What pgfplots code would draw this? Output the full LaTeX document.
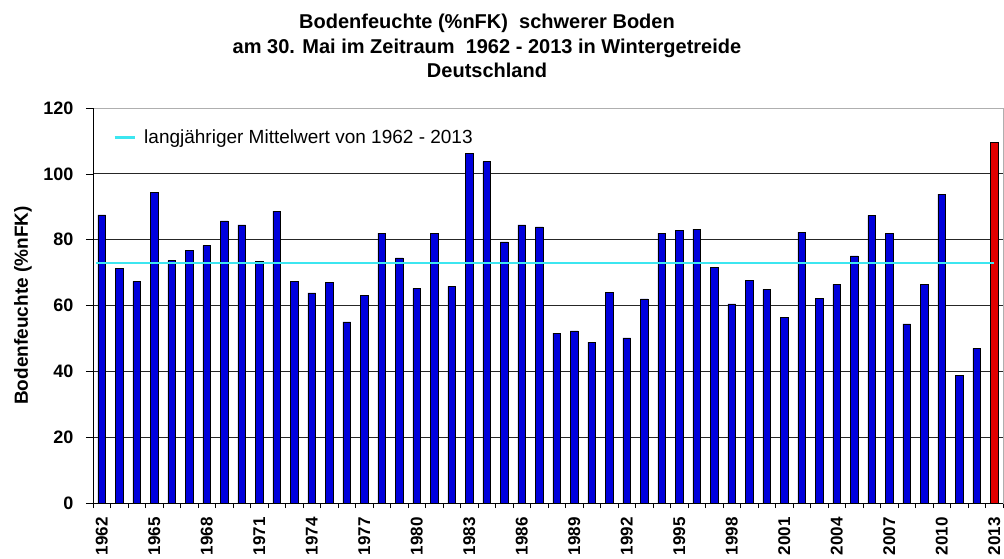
\documentclass[border=0pt]{standalone}
\usepackage{fontspec}
\setmainfont{Liberation Sans}
\usepackage{pgfplots}
\pgfplotsset{compat=1.18}
\definecolor{barblue}{RGB}{0,0,220}
\definecolor{barred}{RGB}{225,0,0}
\definecolor{meancyan}{RGB}{60,230,240}
\definecolor{bordergray}{RGB}{175,175,175}
\begin{document}
\begin{tikzpicture}
\useasboundingbox (0,0) rectangle (1004pt,558pt);
\node[anchor=north, align=center, inner sep=0pt, font=\bfseries\fontsize{20}{24.5}\selectfont] at (487pt,544pt)
 {Bodenfeuchte (\%nFK)\ \ schwerer Boden\\am 30. Mai im Zeitraum\ \ 1962 - 2013 in Wintergetreide\\Deutschland};
\begin{axis}[
 at={(93pt,55pt)}, anchor=south west,
 scale only axis, width=910pt, height=395pt,
 xmin=-0.5, xmax=51.5, ymin=0, ymax=120,
 ytick={0,20,...,100},
 extra y ticks={120},
 extra y tick style={grid=none},
 ymajorgrids, grid style={black!85, line width=0.8pt},
 xtick={0,3,...,51},
 xticklabels={1962,1965,1968,1971,1974,1977,1980,1983,1986,1989,1992,1995,1998,2001,2004,2007,2010,2013},
 minor xtick={-0.5,0.5,...,51.5},
 major x tick style={draw=none},
 minor x tick style={black, line width=0.6pt},
 major y tick style={black, line width=0.6pt},
 minor tick length=5pt, major tick length=7pt,
 tick align=outside, tick pos=left,
 axis line style={bordergray, line width=1pt},
 /pgf/number format/assume math mode=true,
 yticklabel style={font=\bfseries\fontsize{18}{20}\selectfont, xshift=-9pt},
 xticklabel style={font=\bfseries\fontsize{17}{20}\selectfont, yshift=-7pt, rotate=90, anchor=east, inner sep=0pt},
 ylabel={Bodenfeuchte (\%nFK)},
 ylabel style={font=\bfseries\fontsize{19}{22}\selectfont, at={(axis description cs:-0.077,0.5)}, anchor=center},
 legend style={draw=none, fill=none, at={(axis description cs:0.022,0.926)}, anchor=west, inner sep=0pt, font=\fontsize{19}{22}\selectfont,
   /tikz/every odd column/.append style={column sep=6pt}},
 legend cell align=left,
 legend image code/.code={\draw[#1, line width=3pt] (0pt,0pt) -- (20pt,0pt);},
]
\addplot[ybar, bar width=0.43, bar shift=0pt, fill=barblue, draw=black, line width=0.5pt, forget plot] coordinates {
(0,87.5) (1,71.3) (2,67.3) (3,94.4) (4,73.6) (5,76.7) (6,78.2) (7,85.7) (8,84.5) (9,73.4)
(10,88.7) (11,67.3) (12,63.8) (13,67.0) (14,55.0) (15,63.1) (16,82.0) (17,74.5) (18,65.2) (19,82.0)
(20,65.8) (21,106.3) (22,103.7) (23,79.3) (24,84.5) (25,83.9) (26,51.6) (27,52.3) (28,48.9) (29,64.1)
(30,50.2) (31,62.0) (32,82.0) (33,82.9) (34,83.2) (35,71.5) (36,60.5) (37,67.6) (38,64.9) (39,56.5)
(40,82.3) (41,62.2) (42,66.4) (43,75.1) (44,87.4) (45,82.0) (46,54.4) (47,66.4) (48,93.8) (49,38.8)
(50,47.0)
};
\addplot[ybar, bar width=0.43, bar shift=0pt, fill=barred, draw=black, line width=0.5pt, forget plot] coordinates {
(51,109.7)
};
\addplot[meancyan, line width=2.5pt] coordinates {(-0.35,72.85) (51,72.85)};
\addlegendentry{langjähriger Mittelwert von 1962 - 2013}
\draw[black, line width=1pt] (rel axis cs:0,0) -- (rel axis cs:1,0);
\draw[black, line width=1pt] (rel axis cs:0,0) -- (rel axis cs:0,1);
\end{axis}
\end{tikzpicture}
\end{document}
